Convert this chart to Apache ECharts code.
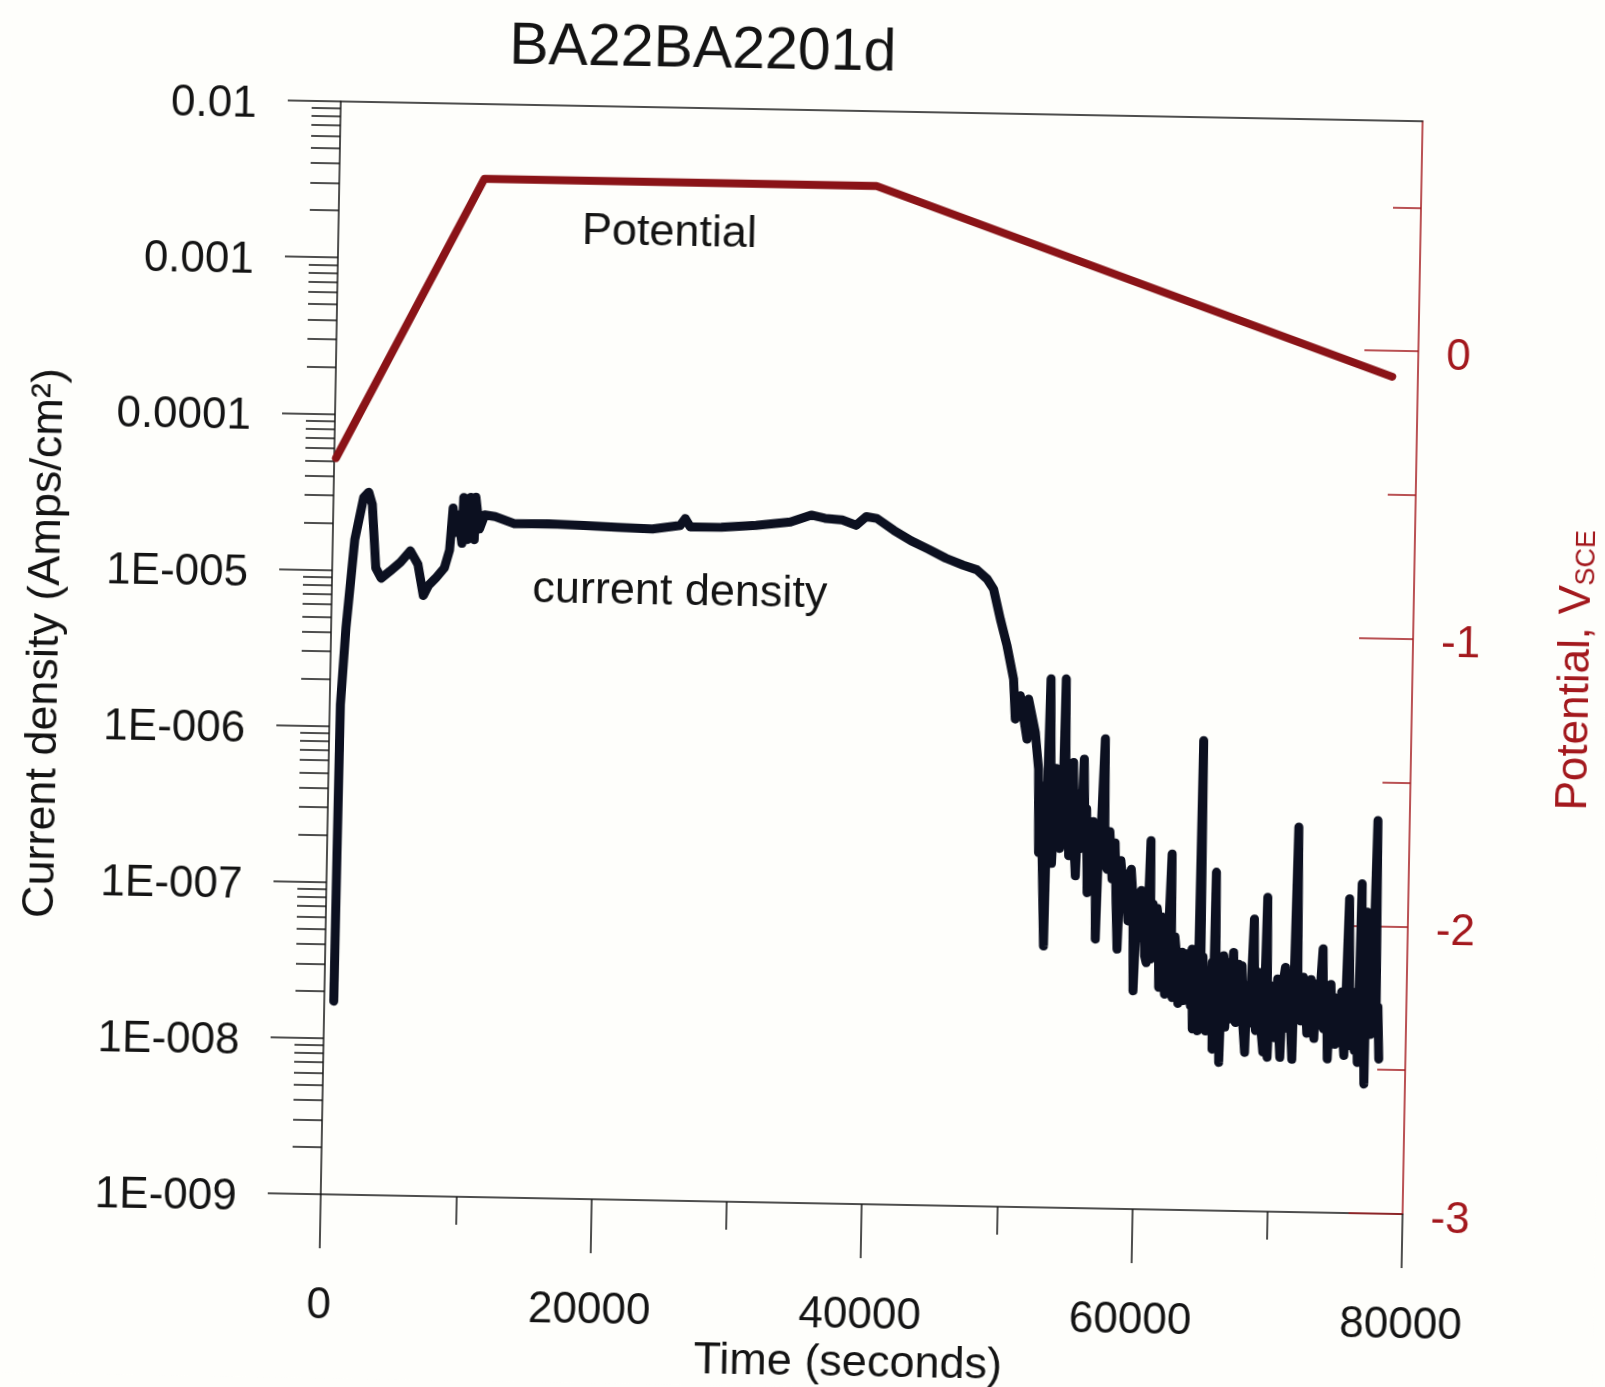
<!DOCTYPE html>
<html>
<head>
<meta charset="utf-8">
<script src="https://cdn.jsdelivr.net/npm/echarts@6/dist/echarts.min.js"></script>
<style>
  html, body { margin: 0; padding: 0; overflow: hidden; background: #fefefb; }
  #chart { width: 1605px; height: 1387px; transform: rotate(1.05deg); transform-origin: 802.5px 693.5px; }
</style>
</head>
<body>
<div id="chart"></div>
<script>
// Potentiostatic test BA22BA2201d: current density (log scale) and applied potential vs time.

// Current density readings [time s, A/cm2] -- initial transient and oscillations
const rampPhase = [
  [700, 1.73e-8], [740, 1.48e-7], [790, 1.37e-6], [1100, 4.29e-6], [1630, 1.57e-5],
  [2230, 2.93e-5], [2600, 3.17e-5], [2880, 2.65e-5], [3220, 1.04e-5], [3630, 8.95e-6],
  [4270, 9.95e-6], [5040, 1.14e-5], [5750, 1.35e-5], [6330, 1.11e-5], [6770, 7.0e-6],
  [7150, 8.17e-6], [7660, 9.08e-6], [8290, 1.06e-5], [8650, 1.38e-5], [8860, 2.57e-5],
  [9020, 1.79e-5], [9260, 2.32e-5], [9550, 1.53e-5], [9630, 3.01e-5], [9940, 1.62e-5],
  [10150, 3.02e-5], [10460, 1.62e-5], [10530, 3.03e-5], [10830, 1.90e-5], [11210, 2.34e-5]
];

// Passive plateau and the slow decline after the potential starts falling
const holdPhase = [
  [11980, 2.29e-5], [13410, 2.07e-5], [15960, 2.09e-5], [18510, 2.06e-5], [21060, 2.02e-5],
  [23620, 1.99e-5], [25660, 2.11e-5], [26030, 2.34e-5], [26420, 2.07e-5], [28720, 2.08e-5],
  [31270, 2.16e-5], [33810, 2.29e-5], [35340, 2.55e-5], [36360, 2.44e-5], [37640, 2.39e-5],
  [38670, 2.22e-5], [39420, 2.53e-5], [40200, 2.47e-5], [41480, 2.08e-5], [42770, 1.79e-5],
  [44060, 1.59e-5], [45350, 1.40e-5], [46640, 1.27e-5], [47660, 1.19e-5], [48440, 1.04e-5],
  [48920, 8.99e-6], [49460, 5.79e-6], [49990, 3.92e-6], [50520, 2.40e-6]
];

// Breakdown of passivity: steep fall with large excursions
const breakdownPhase = [
  [50700, 1.33e-6], [51040, 1.88e-6], [51590, 9.93e-7], [51660, 1.79e-6], [52200, 1.10e-6],
  [52490, 6.41e-7], [52600, 1.87e-7], [52700, 5.0e-7], [53090, 4.73e-8], [53180, 4.6e-7],
  [53290, 2.43e-6], [53450, 4.0e-7], [53570, 1.6e-7], [53670, 2.93e-7], [53800, 6.5e-7],
  [53990, 5.30e-7], [54150, 2.0e-7], [54310, 2.54e-7], [54420, 2.44e-6], [54550, 3.5e-7],
  [54700, 6.8e-7], [54830, 1.80e-7], [54950, 4.2e-7], [55070, 7.14e-7], [55200, 2.2e-7],
  [55350, 1.34e-7], [55500, 4.5e-7], [55650, 2.0e-7], [55860, 7.52e-7], [56000, 2.4e-7],
  [56100, 3.6e-7], [56240, 1.05e-7], [56350, 2.8e-7], [56450, 1.49e-7], [56600, 3.0e-7],
  [56800, 1.91e-7], [56910, 5.31e-8], [57050, 2.5e-7], [57150, 1.9e-7], [57390, 1.02e-6],
  [57500, 1.7e-7], [57680, 1.49e-7], [57850, 2.6e-7], [58070, 1.29e-7], [58250, 2.2e-7],
  [58400, 9.0e-8], [58530, 4.60e-8], [58700, 1.7e-7], [58940, 1.06e-7], [59100, 1.4e-7],
  [59300, 7.0e-8], [59480, 1.5e-7], [59650, 9.66e-8], [59770, 2.50e-8], [59950, 9.7e-8],
  [60100, 5.5e-8], [60250, 1.1e-7], [60450, 7.96e-8], [60580, 4.2e-8], [60700, 3.8e-8],
  [60900, 2.30e-7], [61010, 4.01e-8], [61150, 9.0e-8], [61300, 5.0e-8], [61450, 8.5e-8],
  [61570, 6.90e-8], [61660, 2.65e-8], [61800, 7.5e-8], [61950, 4.9e-8]
];

// Low-current noisy band toward the end of the run
const noiseBand = [
  [62100, 2.4e-8], [62300, 5.2e-8], [62480, 1.90e-7], [62560, 4.0e-8], [62660, 2.29e-8],
  [62800, 5.6e-8], [62950, 4.2e-8], [63100, 2.1e-8], [63350, 4.47e-8], [63500, 2.2e-8],
  [63640, 2.6e-8], [63800, 4.4e-8], [64030, 2.04e-8], [64080, 4.70e-8], [64200, 1.45e-8],
  [64330, 4.48e-8], [64450, 2.2e-8], [64560, 1.41e-8], [64660, 1.02e-6], [64760, 2.5e-8],
  [64900, 4.2e-8], [65050, 1.9e-8], [65170, 1.41e-8], [65340, 3.35e-8], [65500, 1.6e-8],
  [65600, 3.9e-8], [65690, 1.08e-8], [65780, 1.47e-7], [65900, 2.2e-8], [66050, 3.6e-8],
  [66200, 8.91e-9], [66300, 2.6e-8], [66430, 4.30e-8], [66600, 1.5e-8], [66750, 3.9e-8],
  [66880, 1.69e-8], [67020, 3.3e-8], [67160, 4.53e-8], [67270, 2.0e-8], [67380, 1.61e-8],
  [67550, 3.8e-8], [67680, 1.7e-8], [67800, 3.72e-8], [67950, 1.5e-8], [68100, 1.04e-8],
  [68200, 2.78e-8], [68420, 1.6e-8], [68650, 7.45e-8], [68760, 2.4e-8], [68870, 1.44e-8],
  [69020, 3.4e-8], [69180, 2.93e-8], [69300, 1.4e-8], [69450, 1.05e-8], [69610, 1.03e-7],
  [69770, 9.73e-9], [69920, 2.8e-8], [70050, 1.5e-8], [70170, 2.67e-8], [70320, 1.3e-8],
  [70450, 3.1e-8], [70580, 1.5e-8], [70710, 9.75e-9], [70850, 2.9e-8], [71010, 3.68e-8],
  [71150, 1.5e-8], [71300, 3.1e-8], [71450, 1.64e-8], [71600, 9.5e-9], [71810, 2.92e-7],
  [71950, 2.6e-8], [72080, 3.0e-8], [72190, 1.68e-8], [72350, 3.2e-8], [72520, 2.56e-8],
  [72670, 1.4e-8], [72820, 1.42e-8], [72920, 3.1e-8], [73020, 2.44e-8], [73200, 1.3e-8],
  [73300, 2.9e-8], [73430, 1.57e-8], [73600, 2.6e-8], [73770, 4.88e-8], [73900, 1.5e-8],
  [74100, 2.45e-8], [74220, 9.64e-9], [74400, 2.9e-8], [74520, 1.4e-8], [74620, 2.40e-8],
  [74750, 1.2e-8], [74900, 2.3e-8], [75050, 1.30e-8], [75200, 2.6e-8], [75320, 1.4e-8],
  [75440, 1.02e-8], [75660, 1.03e-7], [75800, 2.4e-8], [75920, 1.18e-8], [76050, 2.6e-8],
  [76200, 1.1e-8], [76320, 2.2e-8], [76440, 9.25e-9], [76570, 1.29e-7], [76700, 1.6e-8],
  [76820, 2.6e-8], [76960, 6.73e-9], [77000, 8.5e-8], [77100, 1.6e-8], [77170, 4.06e-8],
  [77230, 8.07e-8], [77350, 1.4e-8], [77500, 3.5e-8], [77650, 3.29e-7], [77780, 1.6e-8],
  [77900, 2.1e-8], [78030, 9.77e-9]
];

// Applied potential program [time s, V vs SCE]
const potentialSteps = [[130, -0.44], [10720, 0.54], [39720, 0.54], [78100, -0.09]];

// Axis tick labels
const currentTickLabels = ['1E-009', '1E-008', '1E-007', '1E-006', '1E-005', '0.0001', '0.001', '0.01'];
const potentialTickValues = [-3, -2, -1, 0];
const potentialHalfTicks = [-2.5, -1.5, -0.5, 0.5];
const timeTickInterval = 20000;

const INK = '#141414';
const RED = '#a3181d';
const LINE_RED = '#8a1317';
const FONT = 'Liberation Sans';

// log10 positions of the 2..9 sub-decade ticks on the current axis
const subDecadeTicks = [];
for (let n = -9; n < -2; n++) {
  for (let k = 2; k <= 9; k++) subDecadeTicks.push(n + Math.log10(k));
}

const currentSeries = rampPhase.concat(holdPhase, breakdownPhase, noiseBand);

const chart = echarts.init(document.getElementById('chart'), null, { renderer: 'canvas' });

chart.setOption({
  backgroundColor: '#fefefb',
  animation: false,
  grid: { left: 330, top: 110, width: 1082, height: 1093, containLabel: false },
  xAxis: [
    {
      type: 'value', position: 'bottom', min: 0, max: 80000, interval: timeTickInterval,
      axisLine: { show: true, onZero: false, lineStyle: { color: INK, width: 1.5 } },
      axisTick: { show: true, inside: false, length: 54, lineStyle: { color: INK, width: 1.5 } },
      minorTick: { show: true, splitNumber: 2, length: 28, lineStyle: { color: INK, width: 1.5 } },
      axisLabel: { show: true, margin: 90, fontSize: 44, fontFamily: FONT, color: INK,
        formatter: v => String(v) },
      splitLine: { show: false }
    },
    {
      type: 'value', position: 'top', min: 0, max: 80000,
      axisLine: { show: true, onZero: false, lineStyle: { color: INK, width: 1.5 } },
      axisTick: { show: false }, axisLabel: { show: false }, splitLine: { show: false }
    }
  ],
  yAxis: [
    {
      type: 'log', logBase: 10, position: 'left', min: 1e-9, max: 1e-2,
      axisLine: { show: true, onZero: false, lineStyle: { color: INK, width: 1.5 } },
      axisTick: { show: true, inside: false, length: 53, lineStyle: { color: INK, width: 1.5 } },
      axisLabel: { show: true, margin: 84,
        formatter: v => '{t|' + currentTickLabels[Math.round(Math.log10(v)) + 9] + '}',
        rich: { t: { fontSize: 44, fontFamily: FONT, color: INK, padding: [10, 0, 0, 0] } } },
      splitLine: { show: false }
    },
    {
      type: 'value', position: 'right', min: -3, max: 0.8,
      axisLine: { show: true, onZero: false, lineStyle: { color: RED, width: 1.5 } },
      axisTick: { show: true, inside: true, length: 54, customValues: potentialTickValues,
        lineStyle: { color: RED, width: 1.5 } },
      axisLabel: { show: true, margin: 28, customValues: potentialTickValues,
        formatter: v => '{t|' + String(v) + '}',
        rich: { t: { fontSize: 44, fontFamily: FONT, color: RED, padding: [11, 0, 0, 0] } } },
      splitLine: { show: false }
    },
    {
      type: 'value', position: 'left', min: -9, max: -2,
      axisLine: { show: false, onZero: false },
      axisTick: { show: true, inside: false, length: 29, customValues: subDecadeTicks,
        lineStyle: { color: INK, width: 1.5 } },
      axisLabel: { show: false }, splitLine: { show: false }
    },
    {
      type: 'value', position: 'right', min: -3, max: 0.8,
      axisLine: { show: false, onZero: false },
      axisTick: { show: true, inside: true, length: 28, customValues: potentialHalfTicks,
        lineStyle: { color: RED, width: 1.5 } },
      axisLabel: { show: false }, splitLine: { show: false }
    }
  ],
  series: [
    {
      name: 'Potential', type: 'line', xAxisIndex: 0, yAxisIndex: 1,
      data: potentialSteps, symbol: 'none', smooth: false,
      lineStyle: { color: LINE_RED, width: 8, cap: 'round', join: 'round' },
      z: 3
    },
    {
      name: 'current density', type: 'line', xAxisIndex: 0, yAxisIndex: 0,
      data: currentSeries, symbol: 'none', smooth: false,
      lineStyle: { color: '#0c1020', width: 9, cap: 'round', join: 'round' },
      z: 4
    }
  ],
  graphic: [
    { type: 'text', x: 691, y: 53, z: 10,
      style: { text: 'BA22BA2201d', font: '59px "Liberation Sans"', fill: INK, align: 'center', verticalAlign: 'middle' } },
    { type: 'text', x: 45, y: 657, rotation: Math.PI / 2, z: 10,
      style: { text: 'Current density (Amps/cm²)', font: '45px "Liberation Sans"', fill: INK, align: 'center', verticalAlign: 'middle' } },
    { type: 'text', x: 860, y: 1363, z: 10,
      style: { text: 'Time (seconds)', font: '45px "Liberation Sans"', fill: INK, align: 'center', verticalAlign: 'middle' } },
    { type: 'text', x: 1576, y: 656, rotation: Math.PI / 2, z: 10,
      style: {
        text: '{a|Potential, V}{b|SCE}', align: 'center', verticalAlign: 'middle',
        rich: {
          a: { fontSize: 44, fontFamily: FONT, fill: RED, color: RED },
          b: { fontSize: 27, fontFamily: FONT, fill: RED, color: RED, verticalAlign: 'bottom' }
        }
      } },
    { type: 'text', x: 661, y: 236, z: 10,
      style: { text: 'Potential', font: '45px "Liberation Sans"', fill: INK, align: 'center', verticalAlign: 'middle' } },
    { type: 'text', x: 678, y: 595, z: 10,
      style: { text: 'current density', font: '45px "Liberation Sans"', fill: INK, align: 'center', verticalAlign: 'middle' } }
  ]
});
</script>
</body>
</html>
